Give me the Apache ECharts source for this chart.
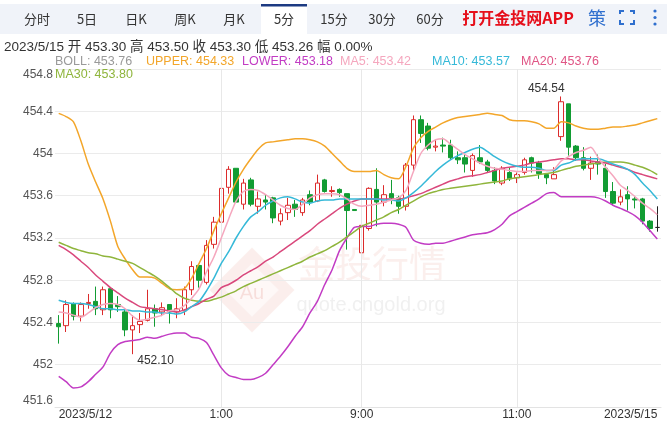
<!DOCTYPE html>
<html><head><meta charset="utf-8">
<script src="https://cdn.jsdelivr.net/npm/echarts@6/dist/echarts.min.js"></script>
<style>html,body{margin:0;padding:0;background:#fff}#c{width:667px;height:421px}</style>
</head><body><div id="c"></div>
<script>
const categories = ["23:10","23:15","23:20","23:25","23:30","23:35","23:40","23:45","23:50","23:55",
"0:00","0:05","0:10","0:15","0:20","0:25","0:30","0:35","0:40","0:45","0:50","0:55",
"1:00","1:05","1:10","1:15","1:20","1:25","1:30","1:35","1:40","1:45","1:50","1:55",
"2:00","2:05","2:10","2:15","2:20","2:25","2:30",
"9:00","9:05","9:10","9:15","9:20","9:25","9:30","9:35","9:40","9:45","9:50","9:55","10:00","10:05","10:10","10:15",
"10:35","10:40","10:45","10:50","10:55","11:00","11:05","11:10","11:15","11:20","11:25","11:30",
"13:35","13:40","13:45","13:50","13:55","14:00","14:05","14:10","14:15","14:20","14:25","14:30","14:35"];
const dateLabels = ["2023/5/12", "2023/5/15"];
const labelIndices = [0, 22, 41, 62, 81];
const splitCategories = ["1:00", "9:00", "11:00"];

const opens = [452.39,452.37,452.58,452.46,452.58,452.60,452.52,452.72,452.57,452.50,
452.33,452.38,452.42,452.53,452.50,452.57,452.50,452.51,452.71,452.94,
452.78,453.14,453.35,453.68,453.86,453.52,453.75,453.50,453.56,453.58,
453.36,453.44,453.52,453.44,453.61,453.55,453.75,453.64,453.66,453.62,
453.47,453.06,453.29,453.66,453.54,453.62,453.58,453.50,453.89,454.32,
454.26,454.06,454.08,454.08,453.96,453.96,453.84,453.96,453.92,453.84,
453.72,453.82,453.77,453.82,453.96,453.91,453.80,453.76,454.16,454.47,
454.07,453.96,453.86,453.92,453.86,453.64,453.54,453.61,453.57,453.57,
453.36,453.30];
const closes = [452.36,452.57,452.46,452.57,452.59,452.53,452.71,452.52,452.55,452.33,
452.37,452.41,452.53,452.49,452.54,452.50,452.53,452.71,452.93,452.80,
453.13,453.35,453.67,453.85,453.54,453.72,453.52,453.57,453.54,453.39,
453.43,453.51,453.47,453.56,453.54,453.72,453.64,453.65,453.63,453.46,
453.46,453.32,453.67,453.54,453.61,453.58,453.50,453.89,454.32,454.19,
454.05,454.07,454.07,453.96,453.94,453.90,453.98,453.92,453.84,453.74,
453.86,453.76,453.80,453.94,453.91,453.81,453.77,453.80,454.49,454.06,
453.96,453.86,453.91,453.90,453.64,453.53,453.59,453.57,453.56,453.36,
453.29,453.30];
const lows = [452.20,452.31,452.42,452.41,452.53,452.47,452.47,452.44,452.50,452.27,
452.10,452.30,452.41,452.36,452.46,452.39,452.44,452.47,452.66,452.73,
452.76,453.10,453.29,453.62,453.54,453.47,453.50,453.43,453.47,453.34,
453.32,453.37,453.40,453.41,453.51,453.54,453.63,453.59,453.59,453.09,
453.46,452.96,453.27,453.31,453.50,453.52,453.43,453.46,453.84,454.10,
454.03,454.02,454.01,453.94,453.90,453.82,453.78,453.90,453.82,453.71,
453.70,453.74,453.72,453.80,453.82,453.76,453.71,453.76,454.12,453.98,
453.93,453.84,453.75,453.80,453.58,453.51,453.51,453.46,453.48,453.33,
453.26,453.26];
const highs = [452.47,452.61,452.59,452.59,452.67,452.74,452.74,452.72,452.65,452.52,
452.47,452.49,452.71,452.57,452.59,452.57,452.63,452.74,452.98,452.95,
453.18,453.40,453.71,453.88,453.86,453.76,453.77,453.64,453.61,453.59,
453.48,453.58,453.56,453.58,453.65,453.80,453.76,453.69,453.67,453.62,
453.47,453.42,453.68,453.86,453.70,453.75,453.60,453.91,454.36,454.36,
454.29,454.13,454.15,454.13,454.02,453.99,454.00,454.08,453.94,453.87,
453.88,453.87,453.82,453.96,453.97,453.93,453.80,453.87,454.54,454.47,
454.08,454.06,453.97,453.99,453.90,453.73,453.66,453.69,453.59,453.58,
453.37,453.50];

const upper = [454.38,454.35,454.30,454.12,453.90,453.73,453.57,453.36,453.12,453.00,
452.90,452.83,452.83,452.82,452.77,452.72,452.71,452.72,452.82,452.96,
453.10,453.27,453.43,453.58,453.73,453.85,453.95,454.04,454.10,454.11,
454.12,454.13,454.14,454.14,454.13,454.11,454.07,454.00,453.93,453.86,
453.83,453.83,453.83,453.84,453.80,453.77,453.76,453.88,454.05,454.15,
454.21,454.25,454.29,454.32,454.34,454.35,454.36,454.37,454.38,454.37,
454.36,454.32,454.31,454.31,454.30,454.28,454.24,454.24,454.30,454.29,
454.26,454.24,454.23,454.23,454.24,454.25,454.25,454.26,454.27,454.29,
454.31,454.33];
const lower = [451.89,451.84,451.78,451.79,451.84,451.91,451.98,452.11,452.19,452.22,
452.23,452.24,452.26,452.25,452.27,452.29,452.30,452.30,452.26,452.25,
452.21,452.09,451.97,451.90,451.88,451.86,451.86,451.88,451.92,452.00,
452.08,452.17,452.27,452.36,452.49,452.60,452.76,452.90,453.08,453.20,
453.30,453.31,453.31,453.33,453.34,453.34,453.33,453.30,453.18,453.15,
453.14,453.15,453.15,453.17,453.19,453.21,453.23,453.24,453.25,453.28,
453.33,453.41,453.45,453.49,453.53,453.57,453.62,453.63,453.59,453.59,
453.59,453.59,453.59,453.58,453.55,453.51,453.48,453.45,453.41,453.35,
453.27,453.19];
const ma5 = [452.50,452.49,452.47,452.45,452.49,452.54,452.57,452.58,452.57,452.53,
452.46,452.42,452.43,452.45,452.47,452.51,452.52,452.56,452.63,452.72,
452.88,453.02,453.20,453.38,453.55,453.64,453.66,453.65,453.61,453.56,
453.51,453.48,453.47,453.52,453.58,453.61,453.62,453.62,453.61,453.57,
453.52,453.50,453.51,453.52,453.54,453.56,453.58,453.65,453.83,454.00,
454.08,454.13,454.14,454.09,454.04,453.99,453.95,453.91,453.88,453.86,
453.85,453.84,453.83,453.83,453.84,453.84,453.84,453.85,453.93,453.97,
454.01,454.03,454.06,453.96,453.87,453.79,453.70,453.65,453.59,453.53,
453.48,453.42];
const ma10 = [452.61,452.59,452.58,452.58,452.57,452.55,452.53,452.53,452.52,452.52,
452.51,452.51,452.50,452.50,452.49,452.49,452.48,452.50,452.55,452.60,
452.70,452.82,452.96,453.07,453.20,453.31,453.40,453.45,453.51,453.55,
453.58,453.59,453.57,453.54,453.53,453.55,453.56,453.56,453.57,453.57,
453.57,453.57,453.57,453.57,453.56,453.56,453.55,453.58,453.63,453.69,
453.76,453.83,453.89,453.94,453.98,454.01,454.04,454.06,454.02,453.97,
453.93,453.90,453.88,453.87,453.87,453.86,453.84,453.84,453.89,453.91,
453.94,453.95,453.95,453.95,453.93,453.90,453.88,453.85,453.80,453.72,
453.65,453.57];
const ma20 = [453.13,453.09,453.04,452.98,452.92,452.85,452.79,452.73,452.68,452.63,
452.59,452.55,452.54,452.53,452.52,452.51,452.50,452.52,452.55,452.58,
452.62,452.65,452.73,452.76,452.80,452.85,452.89,452.93,452.98,453.02,
453.07,453.12,453.17,453.22,453.27,453.33,453.38,453.43,453.48,453.52,
453.55,453.57,453.57,453.57,453.57,453.57,453.57,453.58,453.60,453.62,
453.65,453.68,453.71,453.74,453.76,453.78,453.79,453.80,453.82,453.84,
453.86,453.87,453.88,453.89,453.91,453.92,453.93,453.94,453.95,453.95,
453.94,453.94,453.93,453.92,453.91,453.89,453.87,453.85,453.82,453.80,
453.78,453.76];
const ma30 = [453.16,453.13,453.10,453.08,453.06,453.05,453.03,453.02,453.00,452.98,
452.96,452.92,452.88,452.84,452.79,452.73,452.67,452.63,452.61,452.60,
452.60,452.62,452.64,452.67,452.70,452.74,452.77,452.80,452.83,452.86,
452.89,452.92,452.95,452.98,453.02,453.05,453.08,453.12,453.16,453.21,
453.26,453.31,453.34,453.37,453.40,453.44,453.47,453.51,453.55,453.59,
453.62,453.64,453.66,453.67,453.68,453.69,453.70,453.71,453.72,453.73,
453.74,453.76,453.77,453.78,453.79,453.80,453.81,453.82,453.84,453.86,
453.88,453.89,453.90,453.91,453.92,453.92,453.92,453.91,453.89,453.87,
453.84,453.80];

const tabs = ["分时","5日","日K","周K","月K","5分","15分","30分","60分"];
const infoText = "2023/5/15 开 453.30 高 453.50 收 453.30 低 453.26 幅 0.00%";
const legendNames = ["BOLL","UPPER","LOWER","MA5","MA10","MA20","MA30"];
const legendValues = ["453.76","454.33","453.18","453.42","453.57","453.76","453.80"];
const highMark = {index: 68, value: 454.54, text: "454.54"};
const lowMark = {index: 10, value: 452.10, text: "452.10"};

const C = {
  upper: '#f3a62a', lower: '#c23cc4', ma5: '#f5a7be', ma10: '#36b9d8', ma20: '#d9487c', ma30: '#8fb53c',
  boll: '#9a9a9a', up: '#dc2b2b', down: '#129c33', blue: '#2f6fce'
};
const FONT = '"Liberation Sans", "Noto Sans CJK SC", sans-serif';

const candleData = categories.map((c, i) => [opens[i], closes[i], lows[i], highs[i]]);
const last = categories.length - 1;
const xData = categories.map((c, i) => i === 0 ? {value: c, textStyle: {align: 'left'}} :
  (i === last ? {value: c, textStyle: {align: 'right'}} : c));

const tabX = [37, 87, 136, 185, 234, 284, 334, 382, 430];
const g = [];
g.push({type: 'rect', shape: {x: 0, y: 4, width: 667, height: 30}, style: {fill: '#f0f3f9'}, z: 0});
g.push({type: 'rect', shape: {x: 261, y: 4, width: 46, height: 30}, style: {fill: '#ffffff'}, z: 1});
g.push({type: 'rect', shape: {x: 261, y: 4, width: 46, height: 2.5}, style: {fill: '#1c3a82'}, z: 2});
tabs.forEach((t, i) => g.push({type: 'text', z: 3, style: {text: t, x: tabX[i], y: 19, fill: '#333',
  fontSize: 13, fontFamily: '"Noto Sans CJK SC", sans-serif', align: 'center', verticalAlign: 'middle'}}));
g.push({type: 'text', z: 3, style: {text: '打开金投网APP', x: 518, y: 18, fill: '#e60f1b', fontSize: 16,
  fontWeight: 'bold', fontFamily: '"Noto Sans CJK SC", sans-serif', align: 'center', verticalAlign: 'middle'}});
g.push({type: 'text', z: 3, style: {text: '策', x: 597, y: 18, fill: C.blue, fontSize: 18,
  fontFamily: '"Noto Sans CJK SC", sans-serif', align: 'center', verticalAlign: 'middle'}});
[[620,14,620,11,624,11],[630,11,634,11,634,14],[620,20,620,24,624,24],[630,24,634,24,634,20]].forEach(p =>
  g.push({type: 'polyline', z: 3, shape: {points: [[p[0],p[1]],[p[2],p[3]],[p[4],p[5]]]}, style: {stroke: C.blue, lineWidth: 2, fill: null}}));
[11, 17.5, 24].forEach(y => g.push({type: 'circle', z: 3, shape: {cx: 655, cy: y, r: 1.6}, style: {fill: C.blue}}));
g.push({type: 'text', z: 3, style: {text: infoText, x: 4, y: 47, fill: '#333', fontSize: 13.5,
  fontFamily: FONT, align: 'left', verticalAlign: 'middle'}});
const legColors = [C.boll, C.upper, C.lower, C.ma5, C.ma10, '#e05585', C.ma30];
const legPos = [[55,62],[146,62],[242,62],[340,62],[432,62],[521,62],[55,75]];
legendNames.forEach((n, i) => g.push({type: 'text', z: 10, style: {text: n + ': ' + legendValues[i],
  x: legPos[i][0], y: legPos[i][1], fill: legColors[i], fontSize: 12.5, fontFamily: FONT, align: 'left', verticalAlign: 'middle'}}));
// watermark
g.push({type: 'rect', z: 0, x: 252, y: 290, rotation: Math.PI / 4, shape: {x: -30, y: -30, width: 60, height: 60},
  style: {fill: 'rgba(222,120,108,0.13)'}});
g.push({type: 'rect', z: 0, x: 252, y: 290, rotation: Math.PI / 4, shape: {x: -19, y: -19, width: 38, height: 38},
  style: {fill: 'rgba(255,255,255,0.55)'}});
g.push({type: 'text', z: 0, style: {text: 'Au', x: 252, y: 293, fill: 'rgba(222,120,108,0.2)', fontSize: 20,
  fontFamily: FONT, align: 'center', verticalAlign: 'middle'}});
g.push({type: 'text', z: 0, style: {text: '金投行情', x: 372, y: 264, fill: 'rgba(222,130,118,0.13)', fontSize: 37,
  fontFamily: '"Noto Sans CJK SC", sans-serif', align: 'center', verticalAlign: 'middle'}});
g.push({type: 'text', z: 0, style: {text: 'quote.cngold.org', x: 371, y: 305, fill: 'rgba(150,150,150,0.14)', fontSize: 20,
  fontFamily: FONT, align: 'center', verticalAlign: 'middle'}});

function lineSeries(name, data, color) {
  return {name, type: 'line', data, symbol: 'none', smooth: 0.25, z: 5,
    lineStyle: {color, width: 1.5}, itemStyle: {color}};
}

const chart = echarts.init(document.getElementById('c'), null, {renderer: 'canvas'});
chart.setOption({
  animation: false,
  textStyle: {fontFamily: FONT},
  grid: {left: 55, right: 6, top: 69, bottom: 14},
  graphic: {elements: g},
  xAxis: {
    type: 'category', data: xData, boundaryGap: true,
    axisLine: {lineStyle: {color: '#e3e3e3'}}, axisTick: {show: false}, splitLine: {show: false},
    axisLabel: {
      interval: (i) => labelIndices.includes(i),
      formatter: (v, i) => i === 0 ? dateLabels[0] : (i === last ? dateLabels[1] : v),
      color: '#333', fontSize: 12, margin: 2, alignMinLabel: 'left', alignMaxLabel: 'right'
    }
  },
  yAxis: {
    type: 'value', min: 451.6, max: 454.8, interval: 0.4,
    axisLine: {show: false}, axisTick: {show: false},
    splitLine: {lineStyle: {color: '#ebebeb'}},
    axisLabel: {color: '#555', fontSize: 12, margin: 2, verticalAlignMinLabel: 'bottom', verticalAlignMaxLabel: 'top'}
  },
  series: [
    {
      type: 'candlestick', data: candleData, barWidth: 5, z: 3,
      itemStyle: {color: '#ffffff', color0: C.down, borderColor: C.up, borderColor0: C.down, borderColorDoji: '#222', borderWidth: 1},
      markLine: {silent: true, symbol: ['none', 'none'], label: {show: false},
        lineStyle: {color: '#e8e8e8', width: 1, type: 'solid'},
        data: splitCategories.map(c => ({xAxis: c}))},
      markPoint: {
        symbol: 'circle', symbolSize: 1, itemStyle: {color: 'rgba(0,0,0,0)'},
        label: {show: true, color: '#333', fontSize: 12, formatter: (p) => p.name},
        data: [
          {name: highMark.text, coord: [categories[highMark.index], highMark.value],
            label: {position: 'top', distance: 1, offset: [-15, 0]}},
          {name: lowMark.text, coord: [categories[lowMark.index], lowMark.value],
            label: {position: 'bottom', distance: 0, offset: [23, 0]}}
        ]
      }
    },
    lineSeries('UPPER', upper, C.upper),
    lineSeries('LOWER', lower, C.lower),
    lineSeries('MA30', ma30, C.ma30),
    lineSeries('MA20', ma20, C.ma20),
    lineSeries('MA10', ma10, C.ma10),
    lineSeries('MA5', ma5, C.ma5)
  ]
});
</script></body></html>
